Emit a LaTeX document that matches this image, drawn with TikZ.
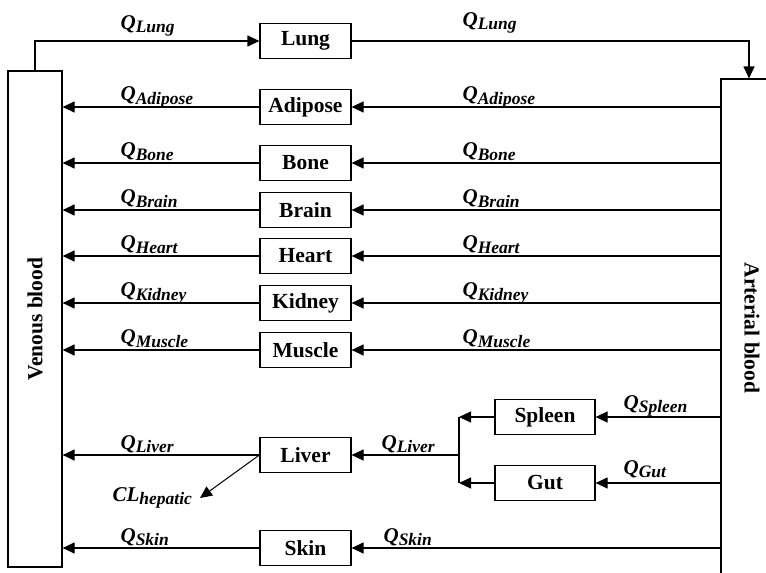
\documentclass[tikz,border=0pt]{standalone}
\usepackage{fontspec}
\setmainfont{Liberation Serif}
\usetikzlibrary{arrows.meta}
\newcommand\flowlab[2]{#1\raisebox{-3.5pt}{\fontsize{17.5}{18}\selectfont #2}}
\begin{document}
\begin{tikzpicture}[x=1pt,y=-1pt, line width=1.2pt,
  organ/.style={draw, minimum width=91pt, minimum height=35pt, inner sep=0pt, font=\fontsize{21.5}{24}\selectfont\bfseries},
  blood/.style={draw, inner sep=0pt},
  btext/.style={inner sep=0pt, font=\fontsize{21.5}{24}\selectfont\bfseries},
  flw/.style={anchor=base west, inner sep=0pt, font=\fontsize{21}{24}\selectfont\bfseries\itshape},
  arr/.style={-{Triangle[length=12pt,width=11pt]}}]
\useasboundingbox (0,0) rectangle (766,573);
% blood compartments
\node[blood, minimum width=54pt, minimum height=496pt] (ven) at (35,319) {};
\node[btext, rotate=90] (ventxt) at (35,319) {Venous blood};
\node[blood, minimum width=56pt, minimum height=504pt] (art) at (749,331) {};
\node[btext, rotate=-90] (arttxt) at (752,328) {Arterial blood};
% lung
\node[organ] (Lung) at (305.5,41) {Lung};
\draw[arr] (ven.north) |- (Lung.west);
\draw[arr] (Lung.east) -| (art.north);
\node[flw] (qlLung) at (120,29) {\flowlab{Q}{Lung}};
\node[flw] (qrLung) at (462,26) {\flowlab{Q}{Lung}};
% parallel organs
\foreach \n/\y in {Adipose/107, Bone/163, Brain/210, Heart/256, Kidney/303, Muscle/350} {
  \node[organ] (\n) at (305.5,\y) {\n};
  \draw[arr] (\n.west) -- (ven.east |- \n.west);
  \draw[arr] (art.west |- \n.east) -- (\n.east);
  \node[flw] (ql\n) at (120,\y-6.5) {\flowlab{Q}{\n}};
  \node[flw] (qr\n) at (462,\y-6.5) {\flowlab{Q}{\n}};
}
% splanchnic
\node[organ] (Liver) at (305.5,455) {Liver};
\node[organ, minimum width=100pt] (Spleen) at (545,417) {Spleen};
\node[organ, minimum width=100pt] (Gut) at (545,483) {Gut};
\coordinate (bs) at (459,417);
\coordinate (bg) at (459,483);
\coordinate (bl) at (459,455);
\draw (bs) -- (bg);
\draw[arr] (Spleen.west) -- (bs);
\draw[arr] (Gut.west) -- (bg);
\draw[arr] (bl) -- (Liver.east);
\draw[arr] (art.west |- Spleen.east) -- (Spleen.east);
\draw[arr] (art.west |- Gut.east) -- (Gut.east);
\draw[arr] (Liver.west) -- (ven.east |- Liver.west);
\node[flw] (qlLiver) at (120,449) {\flowlab{Q}{Liver}};
\node[flw] (qmLiver) at (381,449) {\flowlab{Q}{Liver}};
\node[flw] (qSpleen) at (623,409) {\flowlab{Q}{Spleen}};
\node[flw] (qGut) at (623,474) {\flowlab{Q}{Gut}};
\coordinate (clt) at (200,498);
\draw[arr, line width=1pt] (Liver.west) -- (clt);
\node[flw] (cl) at (112,501) {\flowlab{CL}{hepatic}};
% skin
\node[organ] (Skin) at (305.5,548) {Skin};
\draw[arr] (Skin.west) -- (ven.east |- Skin.west);
\draw[arr] (art.west |- Skin.east) -- (Skin.east);
\node[flw] (qlSkin) at (120,542) {\flowlab{Q}{Skin}};
\node[flw] (qmSkin) at (383,542) {\flowlab{Q}{Skin}};
\end{tikzpicture}
\end{document}
